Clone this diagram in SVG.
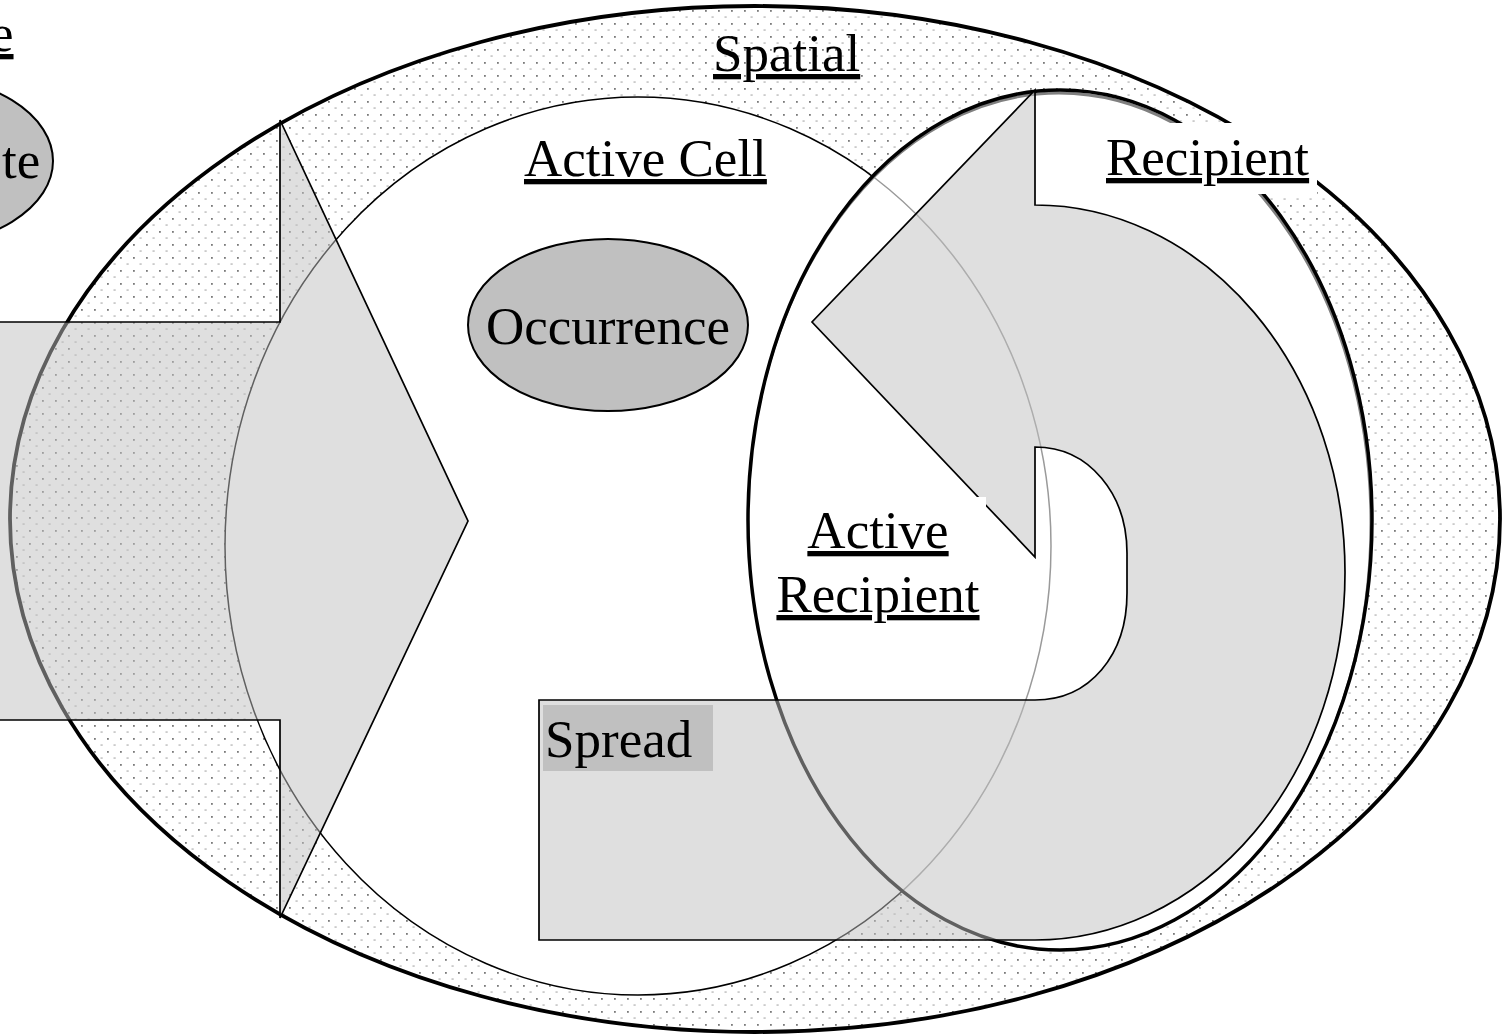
<svg xmlns="http://www.w3.org/2000/svg" width="1508" height="1035" viewBox="0 0 1508 1035">
  <defs>
    <!-- light stipple used for the Spatial region -->
    <pattern id="dots" x="3" y="10" width="13" height="13" patternUnits="userSpaceOnUse">
      <rect width="13" height="13" fill="#ffffff"/>
      <rect x="0" y="0" width="1.8" height="1.8" fill="#7a7a7a"/>
      <rect x="6.5" y="6.5" width="2.2" height="1.1" fill="#a8a8a8"/>
    </pattern>
    <clipPath id="recipClip">
      <ellipse cx="1060" cy="520" rx="312" ry="430"/>
    </clipPath>
    <style>
      .lbl { font-family: "Liberation Serif", "Times New Roman", serif; font-size: 53px; fill: #000; }
      .u { text-decoration: underline; }
      .thick { fill: none; stroke: #000; stroke-width: 3.5; }
      .thin { stroke: #000; stroke-width: 1.5; }
      .flow { fill: #bfbfbf; fill-opacity: 0.5; stroke: #000; stroke-width: 1.7; stroke-linejoin: miter; }
      .event { fill: #c0c0c0; stroke: #000; stroke-width: 2; }
    </style>
  </defs>

  <rect width="1508" height="1035" fill="#ffffff"/>

  <!-- partially visible node at the left edge -->
  <g id="node-left">
    <text class="lbl u" x="-10" y="51">e</text>
    <ellipse class="event" cx="-87" cy="161" rx="140" ry="86"/>
    <text class="lbl" x="2" y="178">te</text>
  </g>

  <!-- Spatial region -->
  <g id="node-spatial">
    <ellipse cx="755" cy="519" rx="745" ry="513" fill="url(#dots)" stroke="#000" stroke-width="3.8"/>
  </g>

  <!-- Active Cell region -->
  <g id="node-active-cell">
    <ellipse cx="638" cy="546" rx="413" ry="449" fill="#ffffff" class="thin"/>
  </g>

  <!-- Occurrence event -->
  <g id="node-occurrence">
    <ellipse class="event" cx="608" cy="325" rx="140" ry="86"/>
    <text class="lbl" x="608" y="344" text-anchor="middle">Occurrence</text>
  </g>

  <!-- Recipient region -->
  <g id="node-recipient">
    <ellipse cx="1060" cy="520" rx="312" ry="430" fill="#ffffff"/>
    <!-- Active Cell outline seen faintly through the recipient -->
    <ellipse cx="638" cy="546" rx="413" ry="449" fill="none" stroke="#9a9a9a" stroke-width="1.5" clip-path="url(#recipClip)"/>
    <!-- inner shade along the rim -->
    <ellipse cx="1059" cy="523" rx="312" ry="430" fill="none" stroke="#808080" stroke-width="3" clip-path="url(#recipClip)"/>
    <ellipse class="thick" cx="1060" cy="520" rx="312" ry="430"/>
  </g>

  <!-- block arrows -->
  <g id="connectors">
    <path id="flow-in" class="flow" d="M-10,322 L280,322 L280,120 L468,521 L280,918 L280,720 L-10,720 Z"/>
    <path id="flow-spread" class="flow" d="M539,700 L1035,700 C1090,700 1127,655 1127,593 L1127,553 C1127,495 1090,447 1035,447 L1035,557 L812,322 L1035,90 L1035,205 A310,367.5 0 0 1 1035,940 L539,940 Z"/>
  </g>

  <!-- labels -->
  <g id="label-spatial">
    <text class="lbl u" x="713" y="71">Spatial</text>
  </g>
  <g id="label-active-cell">
    <text class="lbl u" x="524" y="176">Active Cell</text>
  </g>
  <g id="label-recipient">
    <rect x="1095" y="123" width="222" height="71" fill="#ffffff"/>
    <text class="lbl u" x="1106" y="175">Recipient</text>
  </g>
  <g id="label-active-recipient">
    <rect x="773" y="497" width="213" height="130" fill="#ffffff"/>
    <text class="lbl u" x="878" y="548" text-anchor="middle">Active</text>
    <text class="lbl u" x="878" y="612" text-anchor="middle">Recipient</text>
  </g>
  <g id="label-spread">
    <rect x="543" y="705" width="170" height="66" fill="#c0c0c0"/>
    <text class="lbl" x="545" y="757">Spread</text>
  </g>
</svg>
